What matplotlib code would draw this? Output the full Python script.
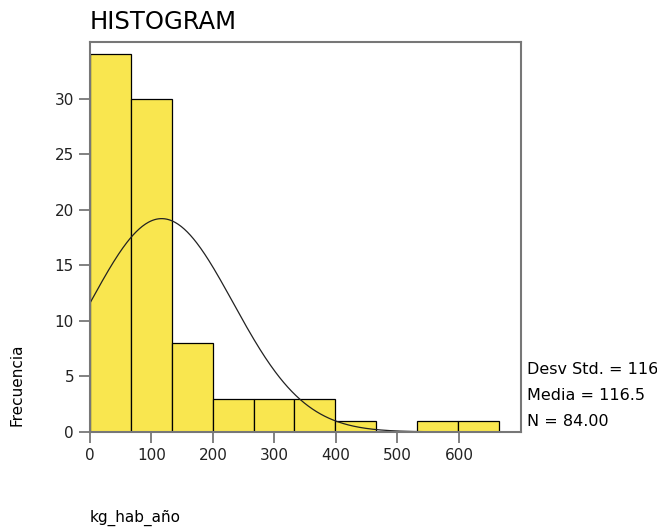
import numpy as np
import matplotlib.pyplot as plt

# Histogram counts of kg_hab_año, bins of equal width starting at 0
bin_edges = [0, 66.5, 133, 199.5, 266, 332.5, 399, 465.5, 532, 598.5, 665]
counts = [34, 30, 8, 3, 3, 3, 1, 0, 1, 1]
media = 116.5
desv_std = 116.09
n_total = 84

fig = plt.figure(figsize=(6.57, 5.28), dpi=100)
ax = fig.add_axes([0.137, 0.182, 0.656, 0.7386])

widths = np.diff(bin_edges)
ax.bar(bin_edges[:-1], counts, width=widths, align='edge',
       color='#F9E64F', edgecolor='black', linewidth=0.9)

# Normal curve scaled to the histogram
xs = np.linspace(0, bin_edges[-1], 400)
bw = widths[0]
ys = n_total * bw / (desv_std * np.sqrt(2 * np.pi)) * np.exp(-0.5 * ((xs - media) / desv_std) ** 2)
ax.plot(xs, ys, color='#222222', linewidth=0.9)

ax.set_xlim(0, 701)
ax.set_ylim(0, 35.1)
ax.set_xticks([0, 100, 200, 300, 400, 500, 600])
ax.set_yticks([0, 5, 10, 15, 20, 25, 30])
ax.tick_params(axis='both', labelsize=11, color='#777777', width=1.3, length=8,
               labelcolor='#222222')
for s in ax.spines.values():
    s.set_color('#777777')
    s.set_linewidth(1.5)

fig.text(90 / 657, 1 - 22 / 528, 'HISTOGRAM', fontsize=17.5, va='center', ha='left')
fig.text(17 / 657, 1 - 385 / 528, 'Frecuencia', fontsize=11, rotation=90,
         va='center', ha='center')
fig.text(90 / 657, 1 - 518 / 528, 'kg_hab_año', fontsize=11, va='center', ha='left')

stats = [f'Desv Std. = {desv_std:.2f}', f'Media = {media}', f'N = {n_total:.2f}']
for i, s in enumerate(stats):
    fig.text(527 / 657, 1 - (369 + 26 * i) / 528, s, fontsize=11.5, va='center', ha='left')

fig.savefig('out.png', dpi=100)
